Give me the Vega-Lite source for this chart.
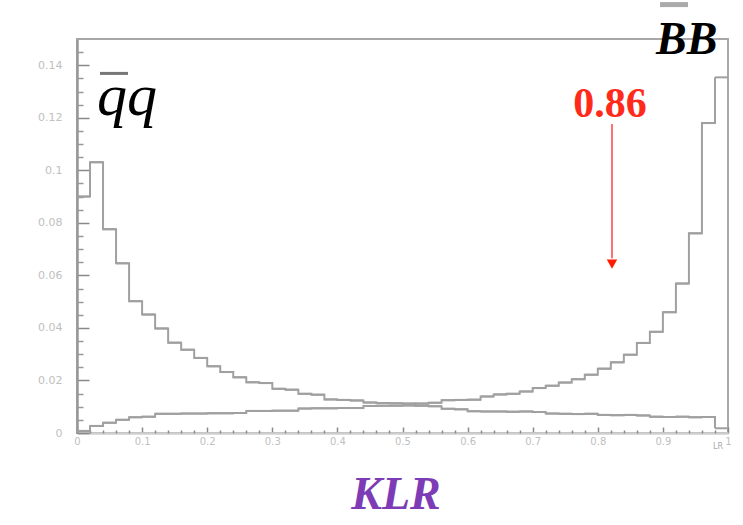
{
  "$schema": "https://vega.github.io/schema/vega-lite/v6.json",
  "width": 651,
  "height": 394,
  "autosize": "none",
  "padding": {"left": 77, "top": 39, "right": 15, "bottom": 92},
  "background": "white",
  "config": {
    "view": {"stroke": "#a8a8a8", "strokeWidth": 2},
    "axis": {"grid": false, "title": null, "labelFlush": false, "labelOverlap": false, "labelFont": "DejaVu Sans"}
  },
  "datasets": {
    "h": [
      {"lo": 0.00, "hi": 0.02, "qq": 0.0900, "bb": 0.0008},
      {"lo": 0.02, "hi": 0.04, "qq": 0.1031, "bb": 0.0027},
      {"lo": 0.04, "hi": 0.06, "qq": 0.0776, "bb": 0.0039},
      {"lo": 0.06, "hi": 0.08, "qq": 0.0646, "bb": 0.0050},
      {"lo": 0.08, "hi": 0.10, "qq": 0.0502, "bb": 0.0060},
      {"lo": 0.10, "hi": 0.12, "qq": 0.0451, "bb": 0.0062},
      {"lo": 0.12, "hi": 0.14, "qq": 0.0398, "bb": 0.0073},
      {"lo": 0.14, "hi": 0.16, "qq": 0.0344, "bb": 0.0073},
      {"lo": 0.16, "hi": 0.18, "qq": 0.0317, "bb": 0.0074},
      {"lo": 0.18, "hi": 0.20, "qq": 0.0286, "bb": 0.0074},
      {"lo": 0.20, "hi": 0.22, "qq": 0.0254, "bb": 0.0075},
      {"lo": 0.22, "hi": 0.24, "qq": 0.0232, "bb": 0.0075},
      {"lo": 0.24, "hi": 0.26, "qq": 0.0212, "bb": 0.0076},
      {"lo": 0.26, "hi": 0.28, "qq": 0.0193, "bb": 0.0084},
      {"lo": 0.28, "hi": 0.30, "qq": 0.0190, "bb": 0.0084},
      {"lo": 0.30, "hi": 0.32, "qq": 0.0168, "bb": 0.0085},
      {"lo": 0.32, "hi": 0.34, "qq": 0.0165, "bb": 0.0085},
      {"lo": 0.34, "hi": 0.36, "qq": 0.0149, "bb": 0.0093},
      {"lo": 0.36, "hi": 0.38, "qq": 0.0146, "bb": 0.0094},
      {"lo": 0.38, "hi": 0.40, "qq": 0.0128, "bb": 0.0094},
      {"lo": 0.40, "hi": 0.42, "qq": 0.0126, "bb": 0.0095},
      {"lo": 0.42, "hi": 0.44, "qq": 0.0124, "bb": 0.0095},
      {"lo": 0.44, "hi": 0.46, "qq": 0.0116, "bb": 0.0103},
      {"lo": 0.46, "hi": 0.48, "qq": 0.0114, "bb": 0.0104},
      {"lo": 0.48, "hi": 0.50, "qq": 0.0113, "bb": 0.0104},
      {"lo": 0.50, "hi": 0.52, "qq": 0.0112, "bb": 0.0105},
      {"lo": 0.52, "hi": 0.54, "qq": 0.0104, "bb": 0.0112},
      {"lo": 0.54, "hi": 0.56, "qq": 0.0102, "bb": 0.0115},
      {"lo": 0.56, "hi": 0.58, "qq": 0.0092, "bb": 0.0125},
      {"lo": 0.58, "hi": 0.60, "qq": 0.0090, "bb": 0.0126},
      {"lo": 0.60, "hi": 0.62, "qq": 0.0083, "bb": 0.0127},
      {"lo": 0.62, "hi": 0.64, "qq": 0.0082, "bb": 0.0139},
      {"lo": 0.64, "hi": 0.66, "qq": 0.0082, "bb": 0.0147},
      {"lo": 0.66, "hi": 0.68, "qq": 0.0081, "bb": 0.0149},
      {"lo": 0.68, "hi": 0.70, "qq": 0.0082, "bb": 0.0158},
      {"lo": 0.70, "hi": 0.72, "qq": 0.0080, "bb": 0.0171},
      {"lo": 0.72, "hi": 0.74, "qq": 0.0074, "bb": 0.0180},
      {"lo": 0.74, "hi": 0.76, "qq": 0.0073, "bb": 0.0192},
      {"lo": 0.76, "hi": 0.78, "qq": 0.0072, "bb": 0.0205},
      {"lo": 0.78, "hi": 0.80, "qq": 0.0073, "bb": 0.0222},
      {"lo": 0.80, "hi": 0.82, "qq": 0.0069, "bb": 0.0245},
      {"lo": 0.82, "hi": 0.84, "qq": 0.0068, "bb": 0.0269},
      {"lo": 0.84, "hi": 0.86, "qq": 0.0069, "bb": 0.0298},
      {"lo": 0.86, "hi": 0.88, "qq": 0.0067, "bb": 0.0343},
      {"lo": 0.88, "hi": 0.90, "qq": 0.0062, "bb": 0.0385},
      {"lo": 0.90, "hi": 0.92, "qq": 0.0061, "bb": 0.0460},
      {"lo": 0.92, "hi": 0.94, "qq": 0.0062, "bb": 0.0569},
      {"lo": 0.94, "hi": 0.96, "qq": 0.0060, "bb": 0.0760},
      {"lo": 0.96, "hi": 0.98, "qq": 0.0061, "bb": 0.1180},
      {"lo": 0.98, "hi": 1.00, "qq": 0.0018, "bb": 0.1354}
    ],
    "one": [{}]
  },
  "layer": [
    {
      "data": {"name": "h"},
      "transform": [{"fold": ["qq", "bb"], "as": ["s", "v"]}],
      "mark": {"type": "line", "interpolate": "step-after", "color": "#a0a0a0", "strokeWidth": 2},
      "encoding": {
        "x": {"field": "lo", "type": "quantitative", "scale": {"domain": [0, 1], "nice": false, "zero": false},
          "axis": {"orient": "bottom", "values": [0, 0.1, 0.2, 0.3, 0.4, 0.5, 0.6, 0.7, 0.8, 0.9, 1], "format": "~g",
            "domainColor": "#cfcfcf", "domainWidth": 2.5, "tickColor": "#888888", "tickWidth": 1.5, "tickSize": -6,
            "labelColor": "#c0c0c0", "labelFontSize": 10, "labelPadding": 9}},
        "y": {"field": "v", "type": "quantitative", "scale": {"domain": [0, 0.15], "nice": false, "zero": false},
          "axis": {"orient": "left", "values": [0, 0.02, 0.04, 0.06, 0.08, 0.1, 0.12, 0.14], "format": "~g",
            "domainColor": "#999999", "domainWidth": 2.5, "tickColor": "#888888", "tickWidth": 1.5, "tickSize": -12,
            "labelColor": "#c0c0c0", "labelFontSize": 11, "labelPadding": 27}},
        "detail": {"field": "s"}
      }
    },
    {
      "data": {"name": "h"},
      "transform": [{"fold": ["qq", "bb"], "as": ["s", "v"]}],
      "mark": {"type": "rule", "color": "#a0a0a0", "strokeWidth": 2},
      "encoding": {
        "x": {"field": "lo", "type": "quantitative", "scale": {"domain": [0, 1], "nice": false, "zero": false},
          "axis": {"orient": "bottom", "values": [0.02, 0.04, 0.06, 0.08, 0.12, 0.14, 0.16, 0.18, 0.22, 0.24, 0.26, 0.28, 0.32, 0.34, 0.36, 0.38, 0.42, 0.44, 0.46, 0.48, 0.52, 0.54, 0.56, 0.58, 0.62, 0.64, 0.66, 0.68, 0.72, 0.74, 0.76, 0.78, 0.82, 0.84, 0.86, 0.88, 0.92, 0.94, 0.96, 0.98],
            "labels": false, "domain": false, "tickColor": "#8a8a8a", "tickWidth": 1.5, "tickSize": -3}},
        "x2": {"field": "hi"},
        "y": {"field": "v", "type": "quantitative", "scale": {"domain": [0, 0.15], "nice": false, "zero": false},
          "axis": {"orient": "left", "values": [0.005, 0.01, 0.015, 0.025, 0.03, 0.035, 0.045, 0.05, 0.055, 0.065, 0.07, 0.075, 0.085, 0.09, 0.095, 0.105, 0.11, 0.115, 0.125, 0.13, 0.135, 0.145],
            "labels": false, "domain": false, "tickColor": "#999999", "tickWidth": 1.5, "tickSize": -6}}
      }
    },
    {
      "data": {"name": "one"},
      "mark": {"type": "rule", "color": "#777777", "strokeWidth": 3},
      "encoding": {
        "x": {"datum": 0.0353, "type": "quantitative", "axis": null, "scale": {"domain": [0, 1], "nice": false, "zero": false}},
        "x2": {"datum": 0.0783},
        "y": {"datum": 0.1369, "type": "quantitative", "axis": null, "scale": {"domain": [0, 0.15], "nice": false, "zero": false}}
      }
    },
    {
      "data": {"name": "one"},
      "mark": {"type": "rule", "color": "#aaaaaa", "strokeWidth": 5},
      "encoding": {
        "x": {"datum": 0.8956, "type": "quantitative", "axis": null, "scale": {"domain": [0, 1], "nice": false, "zero": false}},
        "x2": {"datum": 0.9386},
        "y": {"datum": 0.1631, "type": "quantitative", "axis": null, "scale": {"domain": [0, 0.15], "nice": false, "zero": false}}
      }
    },
    {
      "data": {"name": "one"},
      "mark": {"type": "text", "text": "qq", "font": "Liberation Serif", "fontStyle": "italic", "fontSize": 60, "align": "left", "baseline": "alphabetic", "color": "#000000"},
      "encoding": {
        "x": {"datum": 0.0307, "type": "quantitative", "axis": null, "scale": {"domain": [0, 1], "nice": false, "zero": false}},
        "y": {"datum": 0.1211, "type": "quantitative", "axis": null, "scale": {"domain": [0, 0.15], "nice": false, "zero": false}}
      }
    },
    {
      "data": {"name": "one"},
      "mark": {"type": "text", "text": "BB", "font": "Liberation Serif", "fontStyle": "italic", "fontWeight": "bold", "fontSize": 46, "align": "left", "baseline": "alphabetic", "color": "#000000"},
      "encoding": {
        "x": {"datum": 0.8894, "type": "quantitative", "axis": null, "scale": {"domain": [0, 1], "nice": false, "zero": false}},
        "y": {"datum": 0.1443, "type": "quantitative", "axis": null, "scale": {"domain": [0, 0.15], "nice": false, "zero": false}}
      }
    },
    {
      "data": {"name": "one"},
      "mark": {"type": "text", "text": "0.86", "font": "Liberation Serif", "fontWeight": "bold", "fontSize": 42, "align": "center", "baseline": "alphabetic", "color": "#ff2a1a"},
      "encoding": {
        "x": {"datum": 0.8187, "type": "quantitative", "axis": null, "scale": {"domain": [0, 1], "nice": false, "zero": false}},
        "y": {"datum": 0.1203, "type": "quantitative", "axis": null, "scale": {"domain": [0, 0.15], "nice": false, "zero": false}}
      }
    },
    {
      "data": {"name": "one"},
      "mark": {"type": "rule", "color": "#ff7070", "strokeWidth": 2},
      "encoding": {
        "x": {"datum": 0.8218, "type": "quantitative", "axis": null, "scale": {"domain": [0, 1], "nice": false, "zero": false}},
        "y": {"datum": 0.1176, "type": "quantitative", "axis": null, "scale": {"domain": [0, 0.15], "nice": false, "zero": false}},
        "y2": {"datum": 0.0665}
      }
    },
    {
      "data": {"name": "one"},
      "mark": {"type": "point", "shape": "triangle-down", "filled": true, "size": 110, "color": "#ff1a00", "opacity": 1},
      "encoding": {
        "x": {"datum": 0.8218, "type": "quantitative", "axis": null, "scale": {"domain": [0, 1], "nice": false, "zero": false}},
        "y": {"datum": 0.0643, "type": "quantitative", "axis": null, "scale": {"domain": [0, 0.15], "nice": false, "zero": false}}
      }
    },
    {
      "data": {"name": "one"},
      "mark": {"type": "text", "text": "KLR", "font": "Liberation Serif", "fontStyle": "italic", "fontWeight": "bold", "fontSize": 46, "align": "center", "baseline": "alphabetic", "color": "#7d3cb5"},
      "encoding": {
        "x": {"datum": 0.49, "type": "quantitative", "axis": null, "scale": {"domain": [0, 1], "nice": false, "zero": false}},
        "y": {"datum": -0.0289, "type": "quantitative", "axis": null, "scale": {"domain": [0, 0.15], "nice": false, "zero": false}}
      }
    },
    {
      "data": {"name": "one"},
      "mark": {"type": "text", "text": "LR", "font": "DejaVu Sans", "fontSize": 8, "align": "center", "baseline": "middle", "color": "#aaaaaa"},
      "encoding": {
        "x": {"datum": 0.9846, "type": "quantitative", "axis": null, "scale": {"domain": [0, 1], "nice": false, "zero": false}},
        "y": {"datum": -0.0053, "type": "quantitative", "axis": null, "scale": {"domain": [0, 0.15], "nice": false, "zero": false}}
      }
    }
  ],
  "resolve": {"axis": {"x": "independent", "y": "independent"}}
}
